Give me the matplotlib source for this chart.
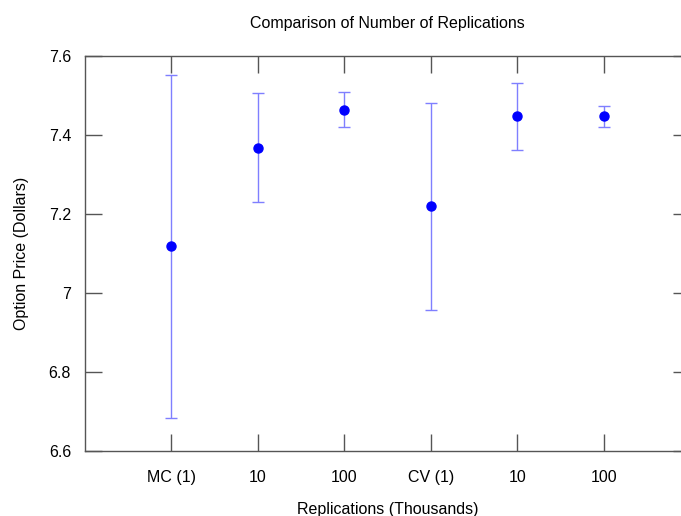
import matplotlib
matplotlib.use('Agg')
import matplotlib.pyplot as plt
import numpy as np

plt.rcParams['font.family'] = ['Liberation Sans', 'DejaVu Sans']

labels = ['MC (1)', '10', '100', 'CV (1)', '10', '100']
price = [7.118, 7.368, 7.464, 7.219, 7.447, 7.447]
half_width = [0.434, 0.138, 0.044, 0.261, 0.084, 0.027]

x = np.arange(1, len(labels) + 1)

fig = plt.figure(figsize=(6.81, 5.16), dpi=100)
ax = fig.add_axes([85 / 681, 1 - 451 / 516, 605 / 681, 395 / 516])

ax.errorbar(x, price, yerr=half_width, fmt='none', ecolor='#7f7fff',
            elinewidth=1.0, capsize=4, capthick=1.0)
ax.plot(x, price, 'o', color='#0000ff', markersize=6.5, linestyle='none')

ax.set_xlim(0, 7)
ax.set_ylim(6.6, 7.6)
ax.set_xticks(x)
ax.set_xticklabels(labels)
ax.set_yticks([6.6, 6.8, 7.0, 7.2, 7.4, 7.6])
ax.set_yticklabels(['6.6', '6.8', '7', '7.2', '7.4', '7.6'])

ax.tick_params(direction='in', length=12, width=1, color='#555555',
               labelsize=11.5, top=True, right=True, pad=14)
ax.tick_params(axis='y', pad=10)
for s in ax.spines.values():
    s.set_color('#555555')
    s.set_linewidth(1)

ax.set_title('Comparison of Number of Replications', fontsize=11.5, pad=20)
ax.set_xlabel('Replications (Thousands)', fontsize=11.5, labelpad=12)
ax.set_ylabel('Option Price (Dollars)', fontsize=11.5, labelpad=14)

fig.savefig('out.png', dpi=100)
